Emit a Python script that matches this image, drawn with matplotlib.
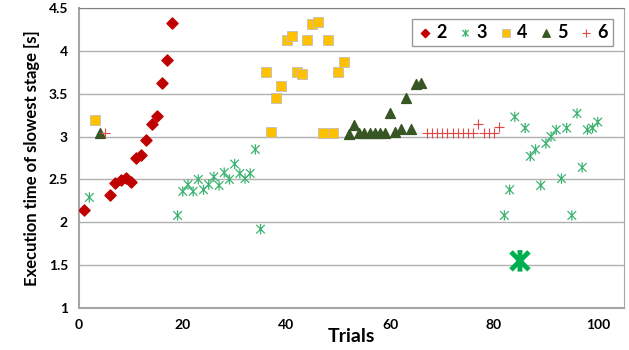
import matplotlib.pyplot as plt
from matplotlib.path import Path

plt.rcParams['font.family'] = ['Lato', 'DejaVu Sans']
plt.rcParams['font.weight'] = 'bold'

# series "2" (diamonds)
x2 = [1, 6, 7, 8, 9, 10, 11, 12, 13, 14, 15, 16, 17, 18]
y2 = [2.14, 2.32, 2.46, 2.49, 2.52, 2.47, 2.75, 2.79, 2.96, 3.15, 3.24, 3.63, 3.89, 4.32]

# series "3" (stars)
x3 = [2, 19, 20, 21, 22, 23, 24, 25, 26, 27, 28, 29, 30, 31, 32, 33, 34, 35,
      82, 83, 84, 86, 87, 88, 89, 90, 91, 92, 93, 94, 95, 96, 97, 98, 99, 100]
y3 = [2.29, 2.08, 2.36, 2.44, 2.36, 2.50, 2.38, 2.44, 2.53, 2.43, 2.58, 2.50, 2.68, 2.57, 2.51, 2.57, 2.85, 1.92,
      2.08, 2.38, 3.23, 3.10, 2.77, 2.85, 2.43, 2.92, 3.00, 3.08, 2.51, 3.10, 2.08, 3.27, 2.64, 3.08, 3.10, 3.17]
x_best = [85]
y_best = [1.55]

# series "4" (squares)
x4 = [3, 36, 37, 38, 39, 40, 41, 42, 43, 44, 45, 46, 47, 48, 49, 50, 51]
y4 = [3.19, 3.75, 3.05, 3.45, 3.59, 4.13, 4.17, 3.75, 3.73, 4.13, 4.31, 4.34, 3.04, 4.13, 3.04, 3.75, 3.87]

# series "5" (triangles)
x5 = [4, 52, 53, 54, 55, 56, 57, 58, 59, 60, 61, 62, 63, 64, 65, 66]
y5 = [3.04, 3.03, 3.13, 3.04, 3.04, 3.04, 3.04, 3.04, 3.04, 3.27, 3.05, 3.09, 3.45, 3.09, 3.61, 3.62]

# series "6" (plus)
x6 = [5, 67, 68, 69, 70, 71, 72, 73, 74, 75, 76, 77, 78, 79, 80, 81]
y6 = [3.04, 3.04, 3.04, 3.04, 3.04, 3.04, 3.04, 3.04, 3.04, 3.04, 3.04, 3.15, 3.04, 3.04, 3.04, 3.11]

# excel style star: an x with a vertical bar
star = Path([(-1, -1), (1, 1), (-1, 1), (1, -1), (0, -1.2), (0, 1.2)],
            [Path.MOVETO, Path.LINETO, Path.MOVETO, Path.LINETO, Path.MOVETO, Path.LINETO])

fig = plt.figure(figsize=(6.29, 3.5), dpi=100)
ax = fig.add_axes([0.1256, 0.12, 0.866, 0.857])

ax.scatter(x2, y2, marker='D', s=32, color='#C00000', zorder=3, label='2')
ax.scatter(x3, y3, marker=star, s=55, facecolors='none', edgecolors='#3CB371', linewidths=0.9, zorder=3, label='3')
ax.scatter(x4, y4, marker='s', s=60, color='#FFC000', edgecolors='#BFBFBF', linewidths=0.6, zorder=3, label='4')
ax.scatter(x5, y5, marker='^', s=50, color='#375623', zorder=3, label='5')
ax.scatter(x6, y6, marker='+', s=55, color='#E04848', linewidths=0.8, zorder=3, label='6')
ax.scatter(x_best, y_best, marker=star, s=240, facecolors='none', edgecolors='#00B050', linewidths=3.5, zorder=4)

ax.set_xlim(0, 105)
ax.set_ylim(1, 4.5)
ax.set_xticks([0, 20, 40, 60, 80, 100])
ax.set_yticks([1, 1.5, 2, 2.5, 3, 3.5, 4, 4.5])
ax.set_yticklabels(['1', '1.5', '2', '2.5', '3', '3.5', '4', '4.5'])
ax.tick_params(length=0, labelsize=10, pad=8)
ax.grid(axis='y', color='#B0B0B0', linewidth=1)
ax.set_axisbelow(True)
for s in ['left', 'bottom']:
    ax.spines[s].set_color('#A6A6A6')
    ax.spines[s].set_linewidth(1.5)
ax.spines['top'].set_color('#808080')
ax.spines['right'].set_color('#A6A6A6')

ax.set_xlabel('Trials', fontsize=14, fontweight='bold', labelpad=-2)
ax.set_ylabel('Execution time of slowest stage [s]', fontsize=12, fontweight='bold', labelpad=6)

leg = ax.legend(loc='upper right', ncol=5, fontsize=13, frameon=True, fancybox=False,
                handletextpad=0.15, columnspacing=0.6, borderpad=0.3, handlelength=0.9,
                markerscale=0.75, bbox_to_anchor=(0.997, 0.995))
leg.get_frame().set_edgecolor('#808080')
leg.get_frame().set_linewidth(1)
for t in leg.get_texts():
    t.set_fontweight('bold')

fig.savefig('out.png', dpi=100)
